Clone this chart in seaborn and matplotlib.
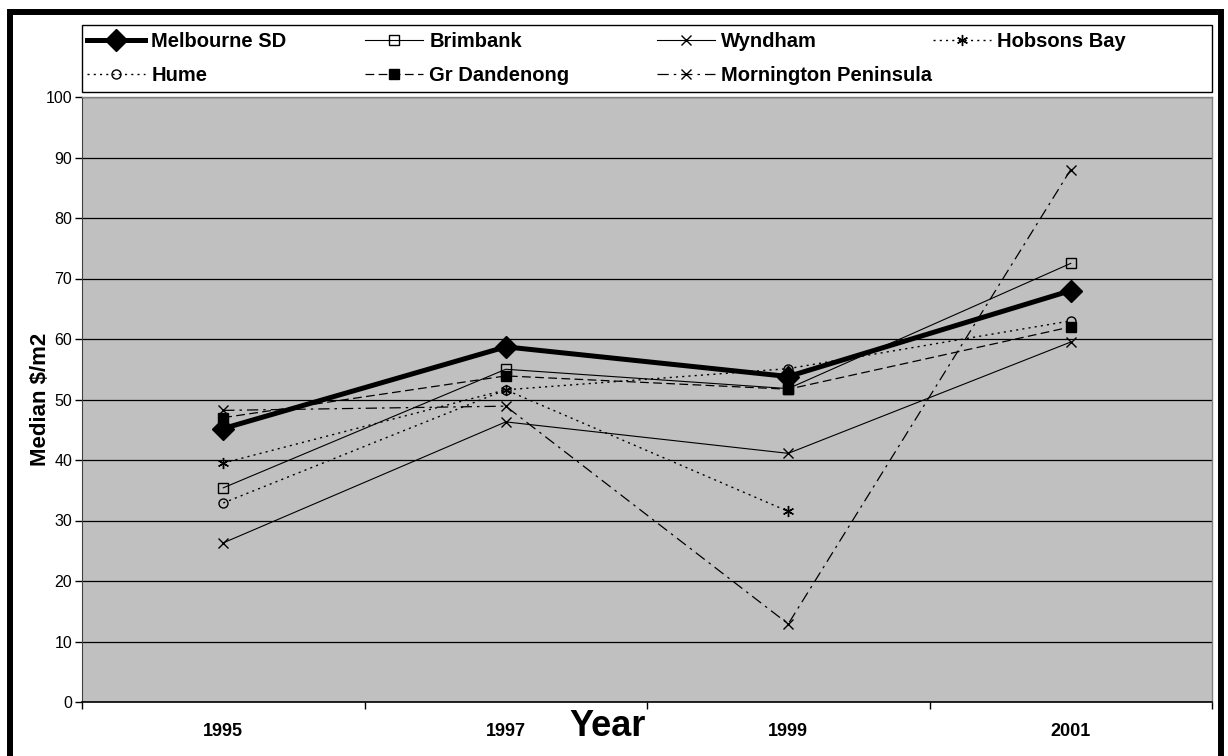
import numpy as np
import pandas as pd
import matplotlib
matplotlib.use("Agg")
import matplotlib.pyplot as plt
from matplotlib.patches import Rectangle
import seaborn as sns

font = ["Liberation Sans", "DejaVu Sans"]
plt.rcParams["font.family"] = font

# Median land price per square metre by municipality
years = ["1995", "1997", "1999", "2001"]
melbourne_sd = [45.2, 58.7, 53.8, 68.0]
brimbank = [35.4, 55.0, 51.8, 72.5]
wyndham = [26.3, 46.3, 41.1, 59.5]
hobsons_bay = [39.5, 51.6, 31.5, np.nan]
hume = [32.9, 51.6, 55.1, 63.0]
gr_dandenong = [47.0, 53.9, 51.7, 62.0]
mornington_peninsula = [48.2, 48.9, 12.9, 88.0]

series_names = ["Melbourne SD", "Brimbank", "Wyndham", "Hobsons Bay",
                "Hume", "Gr Dandenong", "Mornington Peninsula"]
series_values = [melbourne_sd, brimbank, wyndham, hobsons_bay,
                 hume, gr_dandenong, mornington_peninsula]

styles = {
    "Melbourne SD": dict(ls="-", lw=3.6, marker="D", ms=11, mfc="black"),
    "Brimbank": dict(ls="-", lw=0.8, marker="s", ms=6.5, mfc="none"),
    "Wyndham": dict(ls="-", lw=0.8, marker="x", ms=7.5, mfc="none"),
    "Hobsons Bay": dict(ls=(0, (1.5, 3)), lw=1.0, marker=(6, 2, 0), ms=8, mfc="none"),
    "Hume": dict(ls=(0, (1.5, 3)), lw=1.0, marker="o", ms=6.5, mfc="none"),
    "Gr Dandenong": dict(ls=(0, (7, 3.5)), lw=0.9, marker="s", ms=6.5, mfc="black"),
    "Mornington Peninsula": dict(ls=(0, (9, 4, 2, 4)), lw=0.9, marker="x", ms=7.5, mfc="none"),
}

W, H = 1228, 756
fig = plt.figure(figsize=(W / 100, H / 100), dpi=100)
fig.patch.set_facecolor("white")

ax_l, ax_r, ax_t, ax_b = 82, 1212, 97, 702
ax = fig.add_axes([ax_l / W, 1 - ax_b / H, (ax_r - ax_l) / W, (ax_b - ax_t) / H])
ax.set_facecolor("#C0C0C0")

xpos = np.arange(len(years))
for name, vals in zip(series_names, series_values):
    st = styles[name]
    df = pd.DataFrame({"x": xpos, "y": vals})
    sns.lineplot(data=df, x="x", y="y", ax=ax, estimator=None, sort=False,
                 color="black", linestyle=st["ls"], linewidth=st["lw"],
                 marker=st["marker"], markersize=st["ms"],
                 markerfacecolor=st["mfc"], markeredgecolor="black",
                 markeredgewidth=1.0, label=name, zorder=3)

if ax.get_legend() is not None:
    ax.get_legend().remove()

# axes ranges, grid and ticks
ax.set_xlim(-0.5, len(years) - 0.5)
ax.set_ylim(0, 100)
ax.set_yticks(np.arange(0, 101, 10))
ax.yaxis.grid(True, color="black", lw=0.9, zorder=1)
ax.xaxis.grid(False)
ax.set_axisbelow(True)
ax.set_xticks(xpos)
ax.set_xticklabels(years, fontsize=13, fontweight="bold")
ax.set_xticks(np.arange(-0.5, len(years), 1.0), minor=True)
ax.tick_params(axis="x", which="major", length=0, pad=15)
ax.tick_params(axis="x", which="minor", length=5, width=1, direction="out", color="black")
ax.tick_params(axis="y", length=5, width=1, direction="out", color="black", labelsize=11.5, pad=2)

for side in ["top", "right"]:
    ax.spines[side].set_color("#808080")
    ax.spines[side].set_linewidth(1)
ax.spines["left"].set_color("#404040")
ax.spines["bottom"].set_color("black")
ax.spines["bottom"].set_linewidth(1.2)

ax.set_xlabel("Year", fontsize=26, fontweight="bold")
ax.xaxis.set_label_coords(0.4655, -0.041)
ax.xaxis.label.set_va("center")
ax.set_ylabel("Median $/m2", fontsize=16, fontweight="bold")
ax.yaxis.set_label_coords(-0.037, 0.5)
ax.yaxis.label.set_va("center")

# legend: four columns laid out in two rows inside one framed box
handles, labels = ax.get_legend_handles_labels()
lookup = dict(zip(labels, handles))
columns = [["Melbourne SD", "Hume"], ["Brimbank", "Gr Dandenong"],
           ["Wyndham", "Mornington Peninsula"], ["Hobsons Bay"]]
col_x = [87, 365, 657, 933]
for xs, col in zip(col_x, columns):
    fig.legend([lookup[c] for c in col], col, loc="upper left",
               bbox_to_anchor=(xs / W, 1 - 32 / H), frameon=False,
               prop=dict(family=font, weight="bold", size=14.5),
               handlelength=2.9, handletextpad=0.3, labelspacing=0.75,
               borderpad=0, borderaxespad=0, numpoints=1)

fig.patches.append(Rectangle((ax_l / W, 1 - 92 / H), (ax_r - ax_l) / W, (92 - 25) / H,
                             transform=fig.transFigure, fill=False,
                             edgecolor="black", lw=1.0, zorder=5))
# outer chart frame
fig.patches.append(Rectangle((9.5 / W, -0.02), (1221 - 9.5) / W, 1.02 - 12 / H,
                             transform=fig.transFigure, fill=False,
                             edgecolor="black", lw=4.3, zorder=6))

fig.savefig("out.png", dpi=100, facecolor="white")
